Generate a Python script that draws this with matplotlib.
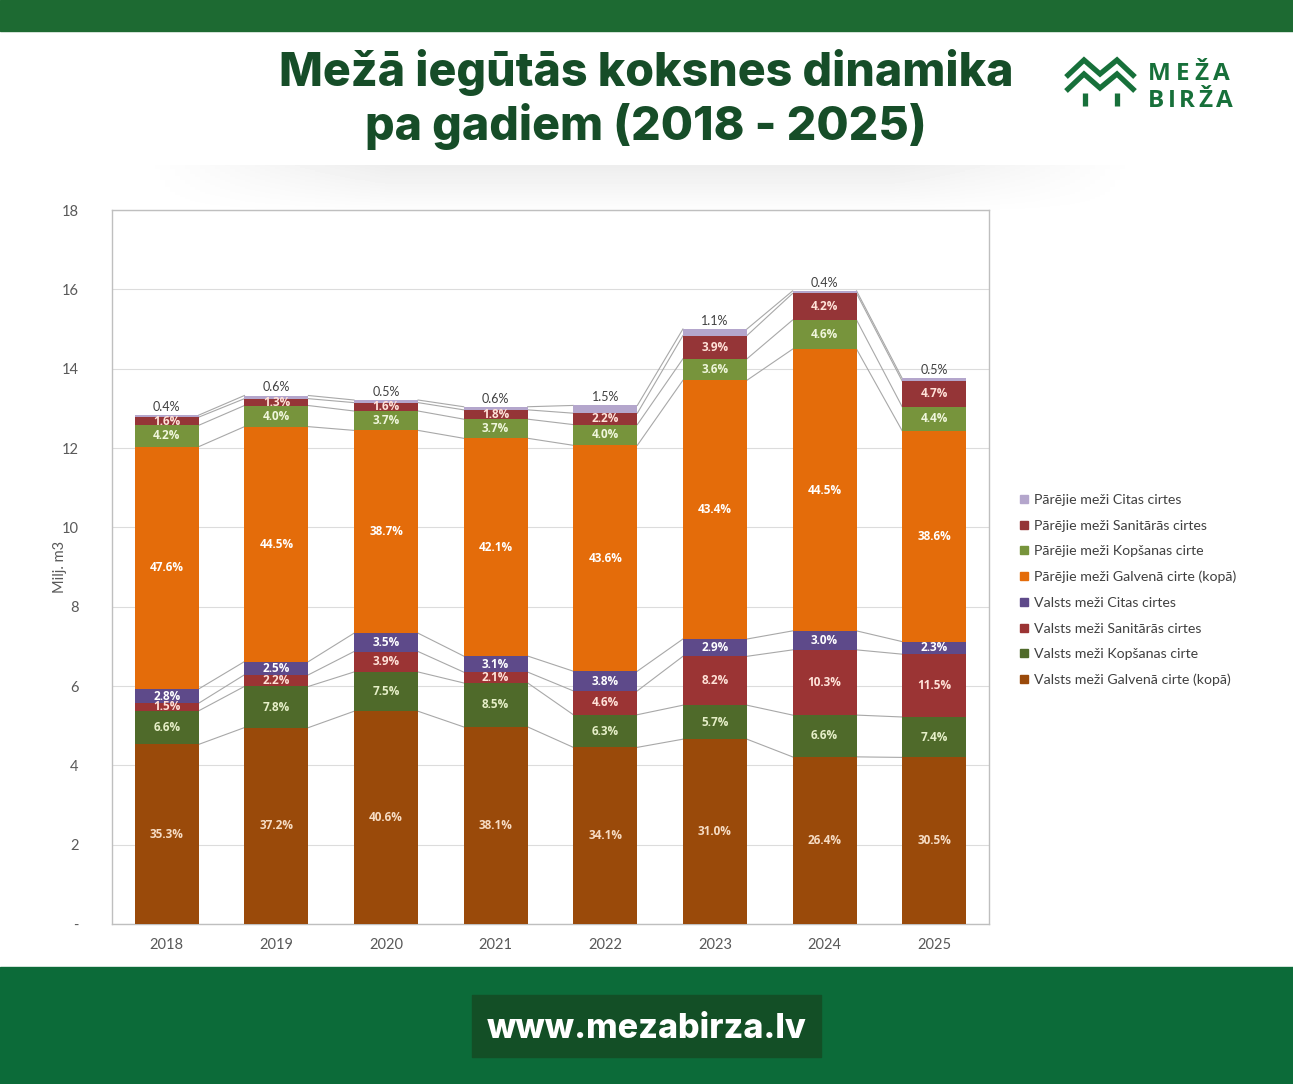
import matplotlib.pyplot as plt
import numpy as np
from matplotlib.patches import Rectangle
from matplotlib.lines import Line2D

# Data (Milj. m3 totals and shares in %)
years = ["2018", "2019", "2020", "2021", "2022", "2023", "2024", "2025"]
totals = [12.83, 13.31, 13.21, 13.04, 13.06, 15.03, 15.96, 13.77]

series_names = [
    "Valsts meži Galvenā cirte (kopā)",
    "Valsts meži Kopšanas cirte",
    "Valsts meži Sanitārās cirtes",
    "Valsts meži Citas cirtes",
    "Pārējie meži Galvenā cirte (kopā)",
    "Pārējie meži Kopšanas cirte",
    "Pārējie meži Sanitārās cirtes",
    "Pārējie meži Citas cirtes",
]
valsts_galvena = [35.3, 37.2, 40.6, 38.1, 34.1, 31.0, 26.4, 30.5]
valsts_kopsanas = [6.6, 7.8, 7.5, 8.5, 6.3, 5.7, 6.6, 7.4]
valsts_sanitaras = [1.5, 2.2, 3.9, 2.1, 4.6, 8.2, 10.3, 11.5]
valsts_citas = [2.8, 2.5, 3.5, 3.1, 3.8, 2.9, 3.0, 2.3]
parejie_galvena = [47.6, 44.5, 38.7, 42.1, 43.6, 43.4, 44.5, 38.6]
parejie_kopsanas = [4.2, 4.0, 3.7, 3.7, 4.0, 3.6, 4.6, 4.4]
parejie_sanitaras = [1.6, 1.3, 1.6, 1.8, 2.2, 3.9, 4.2, 4.7]
parejie_citas = [0.4, 0.6, 0.5, 0.6, 1.5, 1.1, 0.4, 0.5]

shares = [valsts_galvena, valsts_kopsanas, valsts_sanitaras, valsts_citas,
          parejie_galvena, parejie_kopsanas, parejie_sanitaras, parejie_citas]

colors = ["#9a4a0a", "#4f6a2a", "#9b3434", "#5e4a8a",
          "#e46c0a", "#77943c", "#953537", "#b4a6cc"]
label_colors = ["#f6dcc4", "#e6efc8", "#ffe2d8", "#ffffff",
                "#ffffff", "#f0f6dc", "#ffe2d8", "#404040"]

W, H = 1293, 1084
fig = plt.figure(figsize=(W / 100, H / 100), dpi=100)
renderer = fig.canvas.get_renderer()

# background layer in pixel coordinates
bg = fig.add_axes([0, 0, 1, 1], zorder=0)
bg.set_xlim(0, W)
bg.set_ylim(H, 0)
bg.axis("off")

bg.add_patch(Rectangle((0, 0), W, 31, color="#1d6a32"))
bg.add_patch(Rectangle((0, 967), W, H - 967, color="#0c6b39"))
bg.add_patch(Rectangle((472, 995), 349, 62, color="#134f26"))
bg.text(647, 1038, "www.mezabirza.lv", color="white", fontsize=24.5,
        fontweight="heavy", family="Inter", ha="center", va="baseline")

# soft shadow under the header
grad = np.linspace(0.07, 0.0, 50)[:, None] * np.ones((1, 200))
edge = np.minimum(1, np.minimum(np.linspace(0, 4, 200), np.linspace(4, 0, 200)))
bg.imshow(1 - grad * edge, cmap="gray", vmin=0, vmax=1,
          extent=(140, 1140, 215, 165), aspect="auto", zorder=0)

# title
title_color = "#164d28"
bg.text(646, 86, "Mežā iegūtās koksnes dinamika", color=title_color,
        fontsize=33.5, fontweight="heavy", family="Inter",
        ha="center", va="baseline")
bg.text(646, 140, "pa gadiem (2018 - 2025)", color=title_color,
        fontsize=33.5, fontweight="heavy", family="Inter",
        ha="center", va="baseline")

# logo
logo_green = "#17703a"
for dy in (0, 14):
    bg.plot([1066, 1084, 1100, 1117, 1135],
            [77 + dy, 60 + dy, 74 + dy, 60 + dy, 77 + dy],
            color=logo_green, lw=3.8, solid_joinstyle="miter",
            solid_capstyle="butt")
for xv in (1085, 1117):
    bg.plot([xv, xv], [93, 106], color=logo_green, lw=3.8,
            solid_capstyle="butt")
for word, yb, track in (("MEŽA", 80, 5.0), ("BIRŽA", 107, 3.5)):
    xpos = 1148
    for ch in word:
        t = bg.text(xpos, yb, ch, color=logo_green, fontsize=17.5,
                    fontweight="bold", family="Open Sans", va="baseline")
        w = t.get_window_extent(renderer).width
        xpos += w + track

# chart
ax = fig.add_axes([112 / W, 1 - 924 / H, (989 - 112) / W, (924 - 210) / H],
                  zorder=1)
x = np.arange(len(years))
width = 0.584
bottoms = np.zeros(len(years))
tops = []
handles = []
for i, (name, share) in enumerate(zip(series_names, shares)):
    vals = np.array(share) / 100 * np.array(totals)
    ax.bar(x, vals, width, bottom=bottoms, color=colors[i], zorder=3)
    for j in range(len(years)):
        txt = f"{share[j]:.1f}%"
        if i == len(shares) - 1:
            ax.annotate(txt, (x[j], bottoms[j] + vals[j]),
                        xytext=(0, 1.5), textcoords="offset points",
                        ha="center", va="bottom", fontsize=9,
                        color="#404040", family="Lato", zorder=5)
        else:
            ax.text(x[j], bottoms[j] + vals[j] / 2, txt, ha="center",
                    va="center", fontsize=8.5, fontweight="bold",
                    color=label_colors[i], family="Open Sans", zorder=5)
    bottoms = bottoms + vals
    tops.append(bottoms.copy())
    handles.append(Line2D([], [], marker="s", linestyle="none",
                          markersize=6, color=colors[i], label=name))

# series lines between bars
for lvl in tops:
    for j in range(len(years) - 1):
        ax.plot([x[j] + width / 2, x[j + 1] - width / 2],
                [lvl[j], lvl[j + 1]], color="#a8a8a8", lw=0.8, zorder=2)

ax.set_xlim(-0.5, len(years) - 0.5)
ax.set_ylim(0, 18)
ax.set_yticks(range(0, 19, 2))
ax.set_yticklabels(["-"] + [str(v) for v in range(2, 19, 2)])
ax.set_xticks(x)
ax.set_xticklabels(years)
ax.tick_params(axis="both", length=0, labelsize=10.5, labelcolor="#595959")
ax.tick_params(axis="y", pad=24)
ax.tick_params(axis="x", pad=10)
for lab in ax.get_xticklabels() + ax.get_yticklabels():
    lab.set_family("Lato")
ax.grid(axis="y", color="#dcdcdc", lw=0.8, zorder=0)
for sp in ax.spines.values():
    sp.set_color("#bfbfbf")
    sp.set_linewidth(1.0)
ax.set_ylabel("Milj. m3", fontsize=10.5, color="#595959", labelpad=-4,
              family="Lato")

fig.legend(handles=handles[::-1], loc="upper left",
           bbox_to_anchor=(1013 / W, 1 - 487 / H), frameon=False,
           labelcolor="#404040", handlelength=0.6,
           handletextpad=0.4, labelspacing=0.96, borderpad=0,
           prop={"family": "Lato", "size": 10.2})

fig.savefig("out.png", dpi=100)
